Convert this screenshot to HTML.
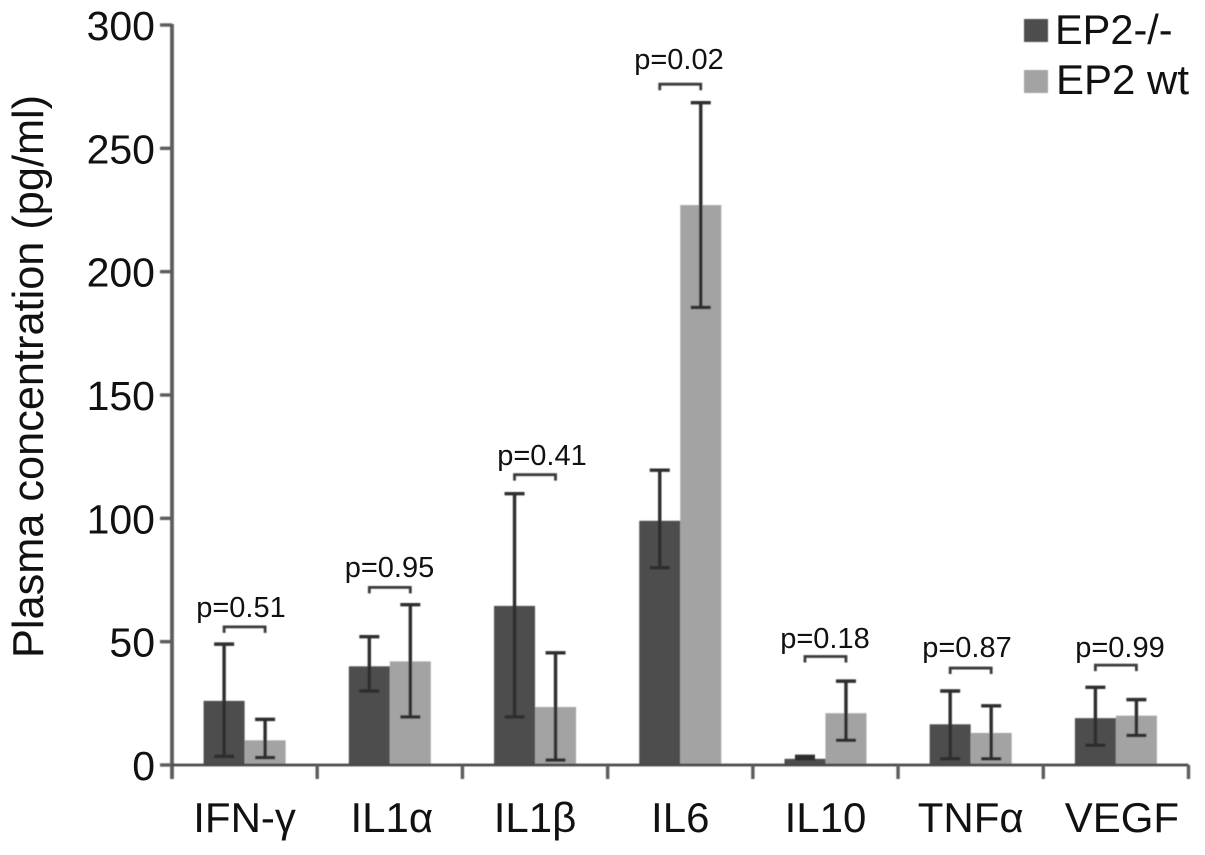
<!DOCTYPE html>
<html lang="en">
<head>
<meta charset="utf-8">
<title>Plasma concentration chart</title>
<style>
html,body{margin:0;padding:0;background:#fff;width:1205px;height:855px;overflow:hidden}
svg{display:block}
text{font-family:"Liberation Sans","DejaVu Sans",sans-serif;fill:#111}
</style>
</head>
<body>
<svg id="chart" xmlns="http://www.w3.org/2000/svg" width="1205" height="855" viewBox="0 0 1205 855">
  <defs><filter id="soft" x="-5%" y="-5%" width="110%" height="110%"><feGaussianBlur stdDeviation="0.55"/></filter></defs>
  <g id="plot" filter="url(#soft)"></g>
  <text transform="translate(43,658) rotate(-90)" font-size="43.300">Plasma concentration (pg/ml)</text>
  <g>
    <rect x="1024" y="19" width="24" height="23" fill="#4d4d4d" filter="url(#soft)"/>
    <text x="1055" y="44" font-size="41.500">EP2-/-</text>
    <rect x="1024" y="70" width="24" height="23" fill="#a3a3a3" filter="url(#soft)"/>
    <text x="1056" y="94" font-size="42">EP2 wt</text>
  </g>
  <g font-size="29" text-anchor="middle">
    <text x="241" y="617">p=0.51</text>
    <text x="389.500" y="577">p=0.95</text>
    <text x="542" y="465">p=0.41</text>
    <text x="679" y="69">p=0.02</text>
    <text x="825" y="648">p=0.18</text>
    <text x="967" y="657">p=0.87</text>
    <text x="1120" y="657">p=0.99</text>
  </g>
</svg>
<script>
const categories = ['IFN-γ', 'IL1α', 'IL1β', 'IL6', 'IL10', 'TNFα', 'VEGF'];
const yTickValues = [0, 50, 100, 150, 200, 250, 300];
const knockoutMeans = [26, 40, 64.5, 99, 2.5, 16.5, 19];
const knockoutUpper = [49, 52, 110, 119.5, 3.5, 30, 31.5];
const knockoutLower = [3.5, 30, 19.5, 80, 2.5, 2.5, 8];
const wildtypeMeans = [10, 42, 23.5, 227, 21, 13, 20];
const wildtypeUpper = [18.5, 65, 45.5, 268.5, 34, 24, 26.5];
const wildtypeLower = [3, 19.5, 2, 185.5, 10, 2.5, 12];
const bracketLevels = [56, 72, 117.7, 276, 44, 39.3, 40.5];

const NS = 'http://www.w3.org/2000/svg';
const plot = document.getElementById('plot');
const chart = document.getElementById('chart');
const y0 = 765, yTop = 25, yMax = 300, xLeft = 172, xRight = 1188.5;
const bandWidth = (xRight - xLeft) / categories.length;
const barWidth = 41;
const AXIS = '#5c5c5c', ERR = '#2f2f2f';

function yScale(v) { return y0 - (v / yMax) * (y0 - yTop); }
function bandStart(i) { return xLeft + i * bandWidth; }
function bandCenter(i) { return bandStart(i) + bandWidth / 2; }

function make(tag, attrs, parent) {
  const el = document.createElementNS(NS, tag);
  for (const k in attrs) el.setAttribute(k, attrs[k]);
  parent.appendChild(el);
  return el;
}

function drawBar(i, x, value, fill, key) {
  const el = make('rect', { x: x, y: yScale(value), width: barWidth, height: y0 - yScale(value), fill: fill }, plot);
  
  
}

function drawError(i, cx, hi, lo, key) {
  const stem = make('line', { x1: cx, x2: cx, y1: yScale(hi), y2: yScale(lo), stroke: ERR, 'stroke-width': 3.4 }, plot);
  
  
  [hi, lo].forEach(function (v) {
    const cap = make('line', { x1: cx - 10, x2: cx + 10, y1: yScale(v), y2: yScale(v), stroke: ERR, 'stroke-width': 3.4 }, plot);
    
    
  });
}

categories.forEach(function (name, i) {
  const c = bandCenter(i);
  drawBar(i, c - barWidth, knockoutMeans[i], '#4d4d4d', 'knockout');
  drawBar(i, c, wildtypeMeans[i], '#a3a3a3', 'wildtype');
  drawError(i, c - barWidth / 2, knockoutUpper[i], knockoutLower[i], 'knockout');
  drawError(i, c + barWidth / 2, wildtypeUpper[i], wildtypeLower[i], 'wildtype');

  const by = yScale(bracketLevels[i]);
  const bracket = make('path', {
    d: 'M' + (c - barWidth / 2) + ' ' + (by + 6) + 'V' + by + 'H' + (c + barWidth / 2) + 'V' + (by + 6),
    fill: 'none', stroke: '#3a3a3a', 'stroke-width': 2.8
  }, plot);
  
  

  const label = make('text', { x: c + (i === 6 ? 6 : i === 1 ? 2 : 0), y: 832, 'font-size': 42, 'text-anchor': 'middle' }, chart);
  label.textContent = name;
  
  
});

const yAxis = make('line', { x1: xLeft, x2: xLeft, y1: yTop - 1, y2: 779, stroke: AXIS, 'stroke-width': 3.8 }, plot);



const xAxis = make('line', { x1: 160, x2: xRight, y1: y0, y2: y0, stroke: '#4a4a4a', 'stroke-width': 2.8 }, plot);



yTickValues.forEach(function (v) {
  const t = make('line', { x1: 160, x2: xLeft, y1: yScale(v), y2: yScale(v), stroke: AXIS, 'stroke-width': 3.4 }, plot);
  
  
  const l = make('text', { x: 155, y: yScale(v) + 15, 'font-size': 41, 'text-anchor': 'end' }, chart);
  l.textContent = String(v);
  
  
});

for (let i = 1; i <= categories.length; i++) {
  const t = make('line', { x1: bandStart(i), x2: bandStart(i), y1: y0, y2: 779, stroke: AXIS, 'stroke-width': 3.4 }, plot);
  
  
}
</script>
</body>
</html>
